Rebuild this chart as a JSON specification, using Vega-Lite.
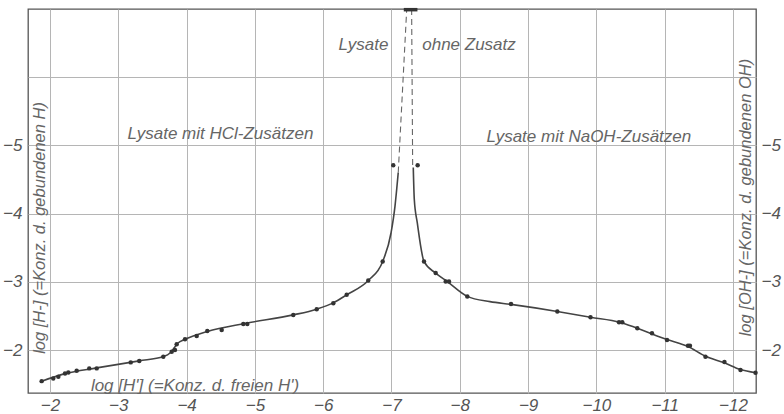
{
  "$schema": "https://vega.github.io/schema/vega-lite/v6.json",
  "width": 728,
  "height": 384,
  "autosize": {"type": "none"},
  "padding": {"left": 28, "top": 9, "right": 28, "bottom": 21},
  "background": "white",
  "config": {
    "view": {"stroke": "#555", "strokeWidth": 1.3},
    "axis": {
      "labelFont": "Liberation Sans", "labelFontStyle": "italic", "labelFontSize": 17, "labelColor": "#555",
      "domain": false, "ticks": false, "gridColor": "#b5b5b5", "gridWidth": 1, "title": null, "format": "d"
    },
    "text": {"font": "Liberation Sans", "fontStyle": "italic", "fontSize": 17, "color": "#666"}
  },
  "datasets": {
    "curve": [
      {"branch": "HCl", "x": -1.878, "y": -1.544},
      {"branch": "HCl", "x": -2.22, "y": -1.654},
      {"branch": "HCl", "x": -2.684, "y": -1.738},
      {"branch": "HCl", "x": -3.307, "y": -1.841},
      {"branch": "HCl", "x": -3.659, "y": -1.904},
      {"branch": "HCl", "x": -3.757, "y": -1.956},
      {"branch": "HCl", "x": -3.816, "y": -2.029},
      {"branch": "HCl", "x": -3.874, "y": -2.103},
      {"branch": "HCl", "x": -3.977, "y": -2.157},
      {"branch": "HCl", "x": -4.303, "y": -2.272},
      {"branch": "HCl", "x": -4.855, "y": -2.39},
      {"branch": "HCl", "x": -5.562, "y": -2.515},
      {"branch": "HCl", "x": -5.905, "y": -2.599},
      {"branch": "HCl", "x": -6.148, "y": -2.691},
      {"branch": "HCl", "x": -6.344, "y": -2.809},
      {"branch": "HCl", "x": -6.66, "y": -3.019},
      {"branch": "HCl", "x": -6.871, "y": -3.299},
      {"branch": "HCl", "x": -6.993, "y": -3.716},
      {"branch": "HCl", "x": -7.051, "y": -4.107},
      {"branch": "HCl", "x": -7.076, "y": -4.353},
      {"branch": "HCl", "x": -7.099, "y": -4.603},
      {"branch": "NaOH", "x": -7.319, "y": -4.676},
      {"branch": "NaOH", "x": -7.334, "y": -4.206},
      {"branch": "NaOH", "x": -7.378, "y": -3.863},
      {"branch": "NaOH", "x": -7.476, "y": -3.299},
      {"branch": "NaOH", "x": -7.647, "y": -3.128},
      {"branch": "NaOH", "x": -7.813, "y": -3.007},
      {"branch": "NaOH", "x": -8.11, "y": -2.787},
      {"branch": "NaOH", "x": -8.442, "y": -2.71},
      {"branch": "NaOH", "x": -8.75, "y": -2.669},
      {"branch": "NaOH", "x": -9.428, "y": -2.566},
      {"branch": "NaOH", "x": -9.914, "y": -2.481},
      {"branch": "NaOH", "x": -10.346, "y": -2.407},
      {"branch": "NaOH", "x": -10.599, "y": -2.319},
      {"branch": "NaOH", "x": -11.034, "y": -2.154},
      {"branch": "NaOH", "x": -11.341, "y": -2.051},
      {"branch": "NaOH", "x": -11.597, "y": -1.909},
      {"branch": "NaOH", "x": -11.875, "y": -1.812},
      {"branch": "NaOH", "x": -12.11, "y": -1.713},
      {"branch": "NaOH", "x": -12.33, "y": -1.666}
    ],
    "dashed": [
      {"branch": "L", "x": -7.099, "y": -4.603},
      {"branch": "L", "x": -7.223, "y": -7.0},
      {"branch": "R", "x": -7.31, "y": -4.69},
      {"branch": "R", "x": -7.295, "y": -7.0}
    ],
    "bar": [{"x": -7.18, "x2": -7.38, "y": -6.99}],
    "markers": [
      {"x": -1.878, "y": -1.544}, {"x": -2.048, "y": -1.584}, {"x": -2.122, "y": -1.607},
      {"x": -2.22, "y": -1.657}, {"x": -2.268, "y": -1.672}, {"x": -2.391, "y": -1.696},
      {"x": -2.575, "y": -1.731}, {"x": -2.684, "y": -1.731}, {"x": -3.182, "y": -1.819},
      {"x": -3.307, "y": -1.838}, {"x": -3.659, "y": -1.901}, {"x": -3.782, "y": -1.975},
      {"x": -3.83, "y": -2.0}, {"x": -3.855, "y": -2.084}, {"x": -3.977, "y": -2.157},
      {"x": -4.148, "y": -2.206}, {"x": -4.303, "y": -2.279}, {"x": -4.514, "y": -2.294},
      {"x": -4.83, "y": -2.382}, {"x": -4.889, "y": -2.382}, {"x": -5.562, "y": -2.515},
      {"x": -5.905, "y": -2.599}, {"x": -6.148, "y": -2.687}, {"x": -6.344, "y": -2.809},
      {"x": -6.66, "y": -3.019}, {"x": -6.871, "y": -3.299}, {"x": -7.026, "y": -4.71},
      {"x": -7.383, "y": -4.71}, {"x": -7.476, "y": -3.299}, {"x": -7.647, "y": -3.128},
      {"x": -7.794, "y": -3.004}, {"x": -7.842, "y": -3.004}, {"x": -8.11, "y": -2.784},
      {"x": -8.75, "y": -2.676}, {"x": -9.428, "y": -2.566}, {"x": -9.914, "y": -2.481},
      {"x": -10.331, "y": -2.407}, {"x": -10.379, "y": -2.407}, {"x": -10.599, "y": -2.319},
      {"x": -10.814, "y": -2.246}, {"x": -11.034, "y": -2.147}, {"x": -11.341, "y": -2.063},
      {"x": -11.37, "y": -2.063}, {"x": -11.597, "y": -1.901}, {"x": -11.875, "y": -1.824},
      {"x": -12.11, "y": -1.706}, {"x": -12.33, "y": -1.666}
    ],
    "labels": [
      {"x": -4.496, "y": -5.16, "text": "Lysate mit HCl-Zusätzen"},
      {"x": -9.89, "y": -5.13, "text": "Lysate mit NaOH-Zusätzen"},
      {"x": -6.59, "y": -6.47, "text": "Lysate"},
      {"x": -8.135, "y": -6.47, "text": "ohne Zusatz"},
      {"x": -4.123, "y": -1.47, "text": "log [H'] (=Konz. d. freien H')"}
    ],
    "vlabels": [
      {"x": -1.854, "y": -3.79, "text": "log [H-] (=Konz. d. gebundenen H)"},
      {"x": -12.19, "y": -4.235, "text": "log [OH-] (=Konz. d. gebundenen OH)"}
    ]
  },
  "layer": [
    {
      "data": {"name": "curve"},
      "mark": {"type": "line", "interpolate": "monotone", "color": "#444", "strokeWidth": 1.6},
      "encoding": {
        "x": {"field": "x", "type": "quantitative",
              "scale": {"domain": [-1.678, -12.337], "nice": false, "zero": false},
              "axis": {"orient": "bottom", "values": [-2, -3, -4, -5, -6, -7, -8, -9, -10, -11, -12], "labelPadding": 4, "grid": true}},
        "y": {"field": "y", "type": "quantitative",
              "scale": {"domain": [-1.37, -7.0], "nice": false, "zero": false},
              "axis": {"orient": "left", "values": [-2, -3, -4, -5, -6], "labelExpr": "datum.value == -6 ? '' : datum.label", "labelPadding": 6, "grid": true}},
        "detail": {"field": "branch"},
        "order": {"field": "x", "sort": "descending"}
      }
    },
    {
      "data": {"name": "dashed"},
      "mark": {"type": "line", "color": "#666", "strokeWidth": 1.1, "strokeDash": [6, 4]},
      "encoding": {
        "x": {"field": "x", "type": "quantitative"},
        "y": {"field": "y", "type": "quantitative",
              "axis": {"orient": "right", "values": [-2, -3, -4, -5], "labelPadding": 5, "grid": false}},
        "detail": {"field": "branch"}
      }
    },
    {
      "data": {"name": "bar"},
      "mark": {"type": "rule", "color": "#333", "strokeWidth": 3.5},
      "encoding": {
        "x": {"field": "x", "type": "quantitative"},
        "x2": {"field": "x2"},
        "y": {"field": "y", "type": "quantitative", "axis": null}
      }
    },
    {
      "data": {"name": "markers"},
      "mark": {"type": "point", "filled": true, "color": "#333", "size": 20, "opacity": 1},
      "encoding": {
        "x": {"field": "x", "type": "quantitative"},
        "y": {"field": "y", "type": "quantitative", "axis": null}
      }
    },
    {
      "data": {"name": "labels"},
      "mark": {"type": "text", "align": "center", "baseline": "middle"},
      "encoding": {
        "x": {"field": "x", "type": "quantitative"},
        "y": {"field": "y", "type": "quantitative", "axis": null},
        "text": {"field": "text"}
      }
    },
    {
      "data": {"name": "vlabels"},
      "mark": {"type": "text", "align": "center", "baseline": "middle", "angle": 270, "fontSize": 16.5},
      "encoding": {
        "x": {"field": "x", "type": "quantitative"},
        "y": {"field": "y", "type": "quantitative", "axis": null},
        "text": {"field": "text"}
      }
    }
  ],
  "resolve": {"axis": {"y": "independent"}}
}
